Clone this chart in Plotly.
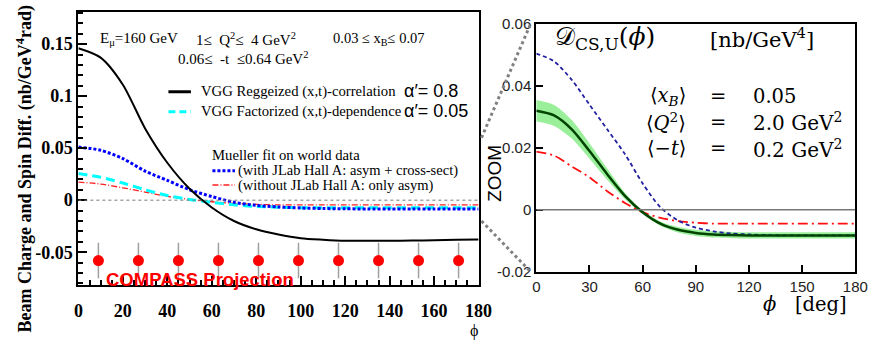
import plotly.graph_objects as go

W, H = 883, 349

# ---------------- data ----------------
phi = [0, 10, 20, 30, 40, 50, 60, 70, 80, 90, 100, 110, 120, 130, 140, 150, 160, 170, 180]

# left panel (COMPASS projection)
vgg_regge = [0.146, 0.137, 0.111, 0.069, 0.036, 0.011, -0.007, -0.020, -0.028, -0.033,
             -0.0365, -0.038, -0.039, -0.039, -0.039, -0.0388, -0.0385, -0.038, -0.0377]
vgg_fact = [0.0256, 0.022, 0.0165, 0.010, 0.0045, 0.0007, -0.002, -0.0045, -0.006, -0.0068,
            -0.0072, -0.0073, -0.0073, -0.0073, -0.0073, -0.0073, -0.0073, -0.0073, -0.0073]
mueller_with = [0.051, 0.048, 0.040, 0.028, 0.019, 0.010, 0.0035, -0.002, -0.005, -0.0065,
                -0.0075, -0.008, -0.0083, -0.0084, -0.0085, -0.0085, -0.0085, -0.0085, -0.0085]
mueller_without = [0.0174, 0.0155, 0.0119, 0.0078, 0.0036, 0.0008, -0.0015, -0.003, -0.004, -0.0045,
                   -0.0045, -0.0045, -0.0045, -0.0045, -0.0045, -0.0045, -0.0045, -0.0045, -0.0045]

compass_phi = [9, 27, 45, 63, 81, 99, 117, 135, 153, 171]
compass_val = [-0.058, -0.058, -0.058, -0.058, -0.058, -0.058, -0.058, -0.058, -0.058, -0.058]
compass_err = [0.017, 0.017, 0.017, 0.017, 0.017, 0.017, 0.017, 0.017, 0.017, 0.017]

# right panel (zoom)
zoom_fit = [0.032, 0.0305, 0.026, 0.019, 0.0115, 0.0045, -0.0008, -0.0045, -0.0065, -0.0075,
            -0.008, -0.0082, -0.0083, -0.0083, -0.0083, -0.0083, -0.0083, -0.0083, -0.0083]
zoom_band = [0.0035, 0.0034, 0.003, 0.0025, 0.0018, 0.001, 0.0006, 0.0007, 0.0009, 0.001,
             0.001, 0.001, 0.001, 0.001, 0.001, 0.001, 0.001, 0.001, 0.001]
zoom_with = [0.0505, 0.048, 0.042, 0.034, 0.026, 0.018, 0.0085, 0.0008, -0.0035, -0.0058,
             -0.007, -0.0077, -0.008, -0.0082, -0.0083, -0.0083, -0.0083, -0.0083, -0.0083]
zoom_without = [0.0188, 0.0175, 0.014, 0.0105, 0.006, 0.0022, -0.0008, -0.0026, -0.0037, -0.0042,
                -0.0045, -0.0045, -0.0045, -0.0045, -0.0045, -0.0045, -0.0045, -0.0045, -0.0045]

left_xticks = [0, 20, 40, 60, 80, 100, 120, 140, 160, 180]
left_yticks = [-0.05, 0, 0.05, 0.1, 0.15]
left_yticktext = ["-0.05", "0", "0.05", "0.1", "0.15"]
right_xticks = [0, 30, 60, 90, 120, 150, 180]
right_yticks = [-0.02, 0, 0.02, 0.04, 0.06]
right_yticktext = ["-0.02", "0", "0.02", "0.04", "0.06"]

# ---------------- layout geometry ----------------
LX_DOM = [75 / W, 484 / W]
LY_DOM = [1 - 290 / H, 1 - 3 / H]
LX_RANGE = [0, 180]
LY_RANGE = [-0.0814, 0.181]
RX_DOM = [543 / W, 869 / W]
RY_DOM = [1 - 276 / H, 1 - 16 / H]
RX_RANGE = [0, 180]
RY_RANGE = [-0.02, 0.06]


def to_paper(xv, yv, xd, xr, yd, yr):
    px = xd[0] + (xv - xr[0]) / (xr[1] - xr[0]) * (xd[1] - xd[0])
    py = yd[0] + (yv - yr[0]) / (yr[1] - yr[0]) * (yd[1] - yd[0])
    return px, py


SERIF = "Liberation Serif"
SANS = "Liberation Sans"
MATH = "DejaVu Serif"

fig = go.Figure()

# ---- left panel traces ----
sp = dict(shape="spline", smoothing=0.8)
fig.add_trace(go.Scatter(x=phi, y=mueller_without, mode="lines", xaxis="x", yaxis="y",
                         line=dict(color="#ff2020", width=1.3, dash="6px,2px,1px,2px", **sp)))
fig.add_trace(go.Scatter(x=phi, y=vgg_fact, mode="lines", xaxis="x", yaxis="y",
                         line=dict(color="#00ffff", width=3, dash="9px,5px", **sp)))
fig.add_trace(go.Scatter(x=phi, y=mueller_with, mode="lines", xaxis="x", yaxis="y",
                         line=dict(color="#0000ff", width=3, dash="3px,2px", **sp)))
fig.add_trace(go.Scatter(x=phi, y=vgg_regge, mode="lines", xaxis="x", yaxis="y",
                         line=dict(color="black", width=2, **sp)))
fig.add_trace(go.Scatter(x=compass_phi, y=compass_val, mode="markers", xaxis="x", yaxis="y",
                         marker=dict(color="#ff0000", size=11),
                         error_y=dict(type="data", array=compass_err, color="#a0a0a0",
                                      thickness=1.5, width=0)))

# ---- right panel traces ----
band_hi = [f + b for f, b in zip(zoom_fit, zoom_band)]
band_lo = [f - b for f, b in zip(zoom_fit, zoom_band)]
fig.add_trace(go.Scatter(x=phi, y=band_lo, mode="lines", xaxis="x2", yaxis="y2",
                         line=dict(width=0, **sp)))
fig.add_trace(go.Scatter(x=phi, y=band_hi, mode="lines", xaxis="x2", yaxis="y2",
                         line=dict(width=0, **sp), fill="tonexty", fillcolor="rgba(100,230,100,0.65)"))
fig.add_trace(go.Scatter(x=phi, y=zoom_without, mode="lines", xaxis="x2", yaxis="y2",
                         line=dict(color="#ff1010", width=1.8, dash="10px,4px,2px,4px", **sp)))
fig.add_trace(go.Scatter(x=phi, y=zoom_with, mode="lines", xaxis="x2", yaxis="y2",
                         line=dict(color="#2020a0", width=1.8, dash="4px,3px", **sp)))
fig.add_trace(go.Scatter(x=phi, y=zoom_fit, mode="lines", xaxis="x2", yaxis="y2",
                         line=dict(color="#004400", width=2.5, **sp)))

axis_common = dict(showgrid=False, zeroline=False, showline=True, linecolor="black",
                   linewidth=2, mirror=True, ticks="inside", tickcolor="black")

fig.update_layout(
    width=W, height=H, margin=dict(l=0, r=0, t=0, b=0),
    paper_bgcolor="white", plot_bgcolor="white", showlegend=False,
    xaxis=dict(domain=LX_DOM, range=LX_RANGE, anchor="y", tickmode="array", tickvals=left_xticks,
               ticklen=9, tickwidth=1.5, ticklabelstandoff=9,
               minor=dict(tickmode="linear", tick0=0, dtick=5, ticks="inside", ticklen=5,
                          tickcolor="black", showgrid=False),
               tickfont=dict(family=SERIF, size=18, color="black", weight="bold"),
               **axis_common),
    yaxis=dict(domain=LY_DOM, range=LY_RANGE, anchor="x", tickmode="array", tickvals=left_yticks,
               ticktext=left_yticktext, ticklen=9, tickwidth=1.5,
               minor=dict(tickmode="linear", tick0=0, dtick=0.01, ticks="inside", ticklen=5,
                          tickcolor="black", showgrid=False),
               tickfont=dict(family=SERIF, size=18, color="black", weight="bold"),
               **axis_common),
    xaxis2=dict(domain=RX_DOM, range=RX_RANGE, anchor="y2", tickmode="array", tickvals=right_xticks,
                ticklen=7, tickwidth=2,
                tickfont=dict(family=SANS, size=15, color="#222"), **axis_common),
    yaxis2=dict(domain=RY_DOM, range=RY_RANGE, anchor="x2", tickmode="array", tickvals=right_yticks,
                ticktext=right_yticktext, ticklen=7, tickwidth=2,
                tickfont=dict(family=SANS, size=15, color="#222"), **axis_common),
)

shapes = []
# zero reference lines
shapes.append(dict(type="line", xref="x", yref="y", x0=LX_RANGE[0], x1=LX_RANGE[1], y0=0, y1=0,
                   line=dict(color="#777", width=1, dash="dot")))
shapes.append(dict(type="line", xref="x2", yref="y2", x0=RX_RANGE[0], x1=RX_RANGE[1], y0=0, y1=0,
                   line=dict(color="#777", width=1.5)))
# zoom connector lines
for yv in RY_RANGE:
    p0 = to_paper(LX_RANGE[1], yv, LX_DOM, LX_RANGE, LY_DOM, LY_RANGE)
    p1 = to_paper(RX_RANGE[0], yv, RX_DOM, RX_RANGE, RY_DOM, RY_RANGE)
    shapes.append(dict(type="line", xref="paper", yref="paper", x0=p0[0] + 3 / W, y0=p0[1],
                       x1=p1[0] - 6 / W, y1=p1[1], line=dict(color="#808080", width=3, dash="dot")))


def legline(x0, x1, y, color, width, dash):
    return dict(type="line", xref="paper", yref="paper", x0=x0 / W, x1=x1 / W, y0=1 - y / H, y1=1 - y / H,
                line=dict(color=color, width=width, dash=dash))


shapes.append(legline(167, 190, 87, "black", 3, "solid"))
shapes.append(legline(167, 190, 108, "#00ffff", 3, "7px,4px"))
shapes.append(legline(212, 235, 170, "#0000ff", 3, "3px,2px"))
shapes.append(legline(212, 235, 185, "#ff2020", 1.3, "6px,2px,1px,2px"))
fig.update_layout(shapes=shapes)


def ann(text, x, y, size, family, xanchor="left", color="black", weight="normal", angle=0):
    return dict(text=text, x=x / W, y=1 - y / H, xref="paper", yref="paper", xanchor=xanchor,
                yanchor="middle", showarrow=False, textangle=angle, borderpad=0,
                font=dict(size=size, family=family, color=color, weight=weight))


anns = [
    ann("Beam Charge and Spin Diff. (nb/GeV<sup>4</sup>rad)", 20, 168, 18, SERIF, "center",
        weight="bold", angle=-90),
    ann("E<sub>μ</sub>=160 GeV", 96, 32, 15, SERIF),
    ann("1≤  Q<sup>2</sup>≤  4 GeV<sup>2</sup>", 194, 32, 15, SERIF),
    ann("0.03 ≤ x<sub>B</sub>≤ 0.07", 334, 32, 14.5, SERIF),
    ann("0.06≤  -t  ≤0.64 GeV<sup>2</sup>", 176, 52, 15, SERIF),
    ann("VGG Reggeized (x,t)-correlation", 199, 87, 14.7, SERIF),
    ann("α′= 0.8", 407, 86, 18, SANS),
    ann("VGG Factorized (x,t)-dependence", 199, 108, 14.7, SERIF),
    ann("α′= 0.05", 407, 107, 18, SANS),
    ann("Mueller fit on world data", 211, 153, 14.7, SERIF),
    ann("(with JLab Hall A: asym + cross-sect)", 237, 170, 14.5, SERIF),
    ann("(without JLab Hall A: only asym)", 237, 186, 14.5, SERIF),
    ann("COMPASS Projection", 199, 284, 18.5, SANS, "center", color="#ff0000", weight="bold"),
    ann("ϕ", 479, 338, 16, SERIF, "center"),
    ann("ZOOM", 500, 173, 19, SANS, "center", angle=-90),
    ann("𝒟<sub><span style='font-size:17px'>CS,U</span></sub>(<i>ϕ</i>)", 561, 31, 25, MATH),
    ann("[nb/GeV<sup>4</sup>]", 719, 31, 21, MATH),
    ann("⟨<i>x<sub>B</sub></i>⟩", 697, 92, 19.5, MATH, "right"),
    ann("⟨<i>Q</i><sup>2</sup>⟩", 697, 119, 19.5, MATH, "right"),
    ann("⟨−<i>t</i>⟩", 697, 147, 19.5, MATH, "right"),
    ann("=", 729, 92, 19.5, MATH, "center"),
    ann("=", 729, 119, 19.5, MATH, "center"),
    ann("=", 729, 147, 19.5, MATH, "center"),
    ann("0.05", 763, 92, 19.5, MATH),
    ann("2.0 GeV<sup>2</sup>", 763, 119, 20, MATH),
    ann("0.2 GeV<sup>2</sup>", 763, 147, 20, MATH),
    ann("<i>ϕ</i>   [deg]", 818, 311, 19.5, MATH, "center"),
]
fig.update_layout(annotations=anns)

fig.write_html("out.html")
